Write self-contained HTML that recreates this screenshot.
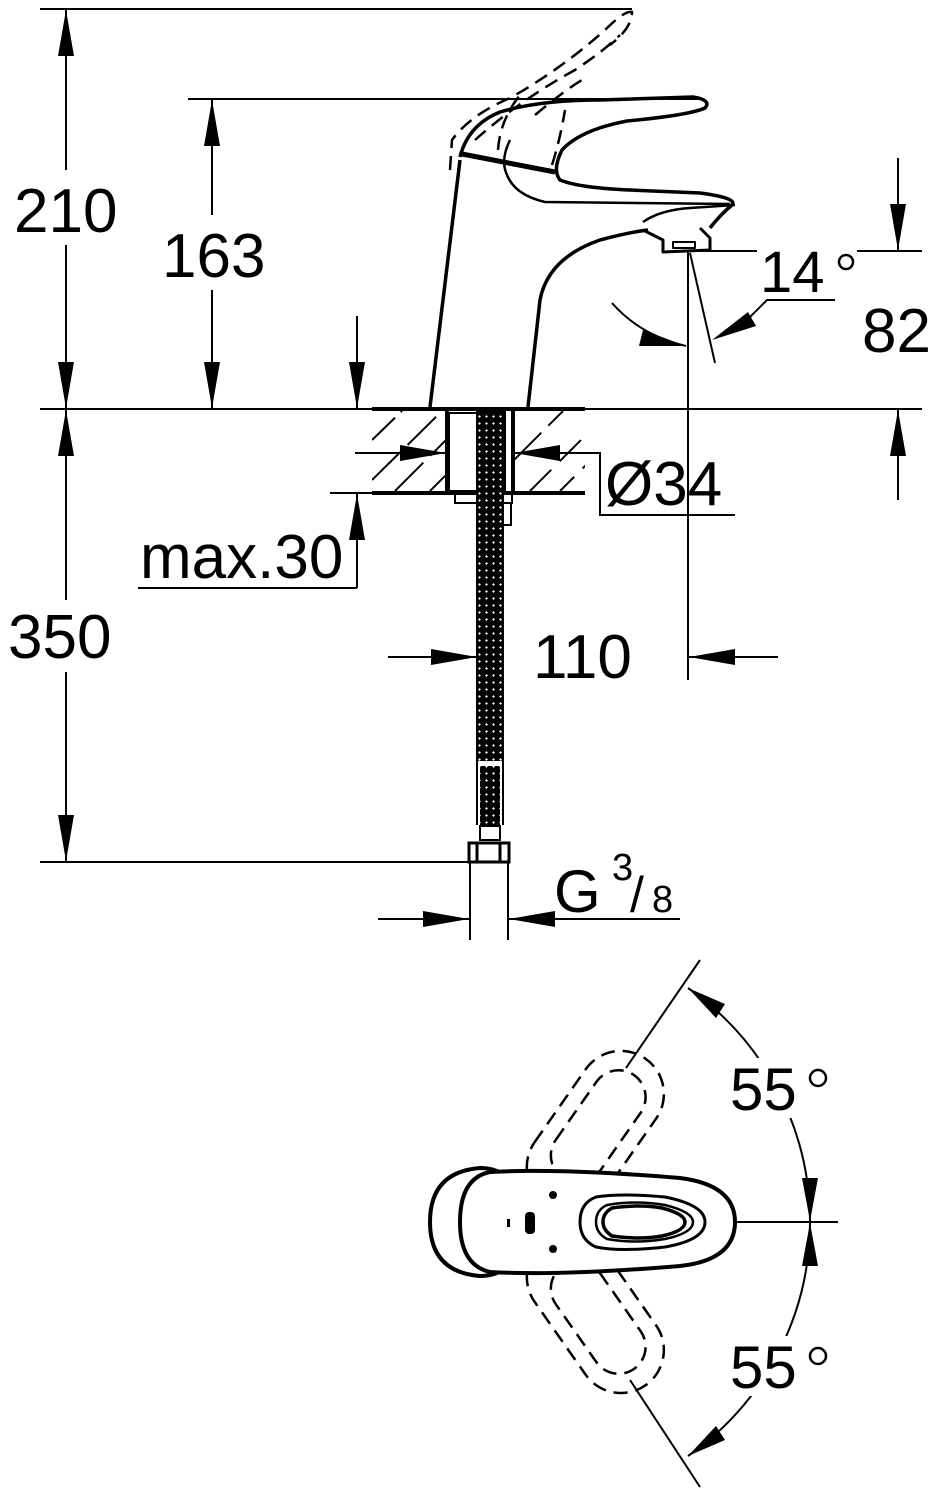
<!DOCTYPE html>
<html><head><meta charset="utf-8"><style>
html,body{margin:0;padding:0;background:#fff;}
svg{display:block;}
text{font-family:"Liberation Sans",Arial,sans-serif;fill:#000;}
</style></head><body>
<svg width="939" height="1500" viewBox="0 0 939 1500" xmlns="http://www.w3.org/2000/svg">
<defs>
<pattern id="hose" width="7" height="7" patternUnits="userSpaceOnUse">
<rect width="7" height="7" fill="#000"/>
<rect x="2.5" y="2.5" width="2" height="2" fill="#fff" transform="rotate(45 3.5 3.5)"/>
</pattern>
<clipPath id="slabL"><rect x="372" y="411" width="75" height="80"/></clipPath>
<clipPath id="slabR"><rect x="513" y="411" width="72" height="80"/></clipPath>
</defs>
<g stroke="#000" fill="none" stroke-width="2">
<line x1="40" y1="9" x2="632" y2="9"/>
<line x1="188" y1="99" x2="700" y2="99"/>
<line x1="40" y1="409" x2="922" y2="409"/>
<line x1="40" y1="862" x2="470" y2="862"/>
<line x1="66" y1="9" x2="66" y2="170"/>
<line x1="66" y1="245" x2="66" y2="409"/>
<line x1="66" y1="409" x2="66" y2="600"/>
<line x1="66" y1="672" x2="66" y2="862"/>
<line x1="212" y1="99" x2="212" y2="215"/>
<line x1="212" y1="290" x2="212" y2="409"/>
<line x1="357" y1="316" x2="357" y2="409"/>
<line x1="357" y1="493" x2="357" y2="588"/>
<line x1="138" y1="588" x2="357" y2="588"/>
<line x1="330" y1="493" x2="372" y2="493"/>
<line x1="898" y1="158" x2="898" y2="251"/>
<line x1="898" y1="409" x2="898" y2="500"/>
<line x1="690" y1="251" x2="757" y2="251"/>
<line x1="857" y1="251" x2="922" y2="251"/>
<line x1="688" y1="252" x2="688" y2="680"/>
<line x1="690" y1="253" x2="715" y2="363"/>
<polyline points="835,300 767,300 745,322"/>
<path d="M612 303 Q640 335 686 346"/>
<line x1="355" y1="453" x2="447" y2="453"/>
<polyline points="513,453 600,453 600,515 735,515"/>
<line x1="388" y1="657" x2="478" y2="657"/>
<line x1="688" y1="657" x2="778" y2="657"/>
<line x1="378" y1="919" x2="470" y2="919"/>
<line x1="508" y1="919" x2="680" y2="919"/>
<line x1="470" y1="862" x2="470" y2="940"/>
<line x1="508" y1="862" x2="508" y2="940"/>
</g>
<g fill="#000">
<polygon points="66,10 58,56 74,56"/>
<polygon points="66,408 58,362 74,362"/>
<polygon points="66,410 58,456 74,456"/>
<polygon points="66,861 58,815 74,815"/>
<polygon points="212,100 204,146 220,146"/>
<polygon points="212,408 204,362 220,362"/>
<polygon points="357,408 349,362 365,362"/>
<polygon points="357,494 349,540 365,540"/>
<polygon points="898,250 890,204 906,204"/>
<polygon points="898,410 890,456 906,456"/>
<polygon points="446,453 400,445 400,461"/>
<polygon points="514,453 560,445 560,461"/>
<polygon points="477,657 431,649 431,665"/>
<polygon points="689,657 735,649 735,665"/>
<polygon points="469,919 423,911 423,927"/>
<polygon points="509,919 555,911 555,927"/>
<polygon points="686,346 643,330 639,346"/>
<polygon points="712,340 748,312 756,326"/>
<polygon points="688,988 725,1004 716,1018"/>
<polygon points="810,1221 802,1178 818,1178"/>
<polygon points="810,1223 802,1266 818,1266"/>
<polygon points="688,1456 725,1440 716,1426"/>
</g>
<g stroke="#000" fill="none">
<line x1="372" y1="409" x2="585" y2="409" stroke-width="4"/>
<line x1="372" y1="493" x2="585" y2="493" stroke-width="4"/>
<g stroke-width="2" clip-path="url(#slabL)">
<line x1="372" y1="440" x2="402" y2="411" stroke-dasharray="32 8"/>
<line x1="372" y1="480" x2="442" y2="411" stroke-dasharray="40 10"/>
<line x1="395" y1="491" x2="475" y2="411" stroke-dasharray="40 10"/>
<line x1="430" y1="491" x2="510" y2="411" stroke-dasharray="40 10"/>
</g>
<g stroke-width="2" clip-path="url(#slabR)">
<line x1="513" y1="461" x2="563" y2="411" stroke-dasharray="40 10"/>
<line x1="530" y1="491" x2="610" y2="411" stroke-dasharray="30 12"/>
<line x1="560" y1="491" x2="640" y2="411" stroke-dasharray="20 12"/>
</g>
<line x1="447" y1="409" x2="447" y2="493" stroke-width="4"/>
<line x1="513" y1="409" x2="513" y2="493" stroke-width="4"/>
<rect x="449" y="413" width="29" height="78" stroke-width="2" fill="#fff"/>
<line x1="505" y1="411" x2="505" y2="491" stroke-width="2"/>
<polyline points="455,493 455,503 512,503 512,493" stroke-width="2"/>
<rect x="503" y="503" width="8" height="22" stroke-width="2"/>
</g>
<rect x="478" y="411" width="24" height="350" fill="url(#hose)"/>
<rect x="480" y="766" width="20" height="60" fill="url(#hose)"/>
<g stroke="#000" fill="none" stroke-width="2">
<line x1="477" y1="411" x2="477" y2="825"/>
<line x1="503" y1="411" x2="503" y2="825"/>
<rect x="480" y="826" width="20" height="14" fill="#fff"/>
<rect x="469" y="843" width="40" height="19" stroke-width="3"/>
<line x1="477" y1="843" x2="477" y2="862" stroke-width="3"/>
<line x1="500" y1="843" x2="500" y2="862" stroke-width="3"/>
</g>
<g stroke="#000" fill="none" stroke-width="3.5" stroke-linejoin="round">
<path d="M430 407 L460 160"/>
<path d="M528 407 L540 300 Q548 258 600 240 Q630 232 648 230"/>
<path d="M460 157 Q468 125 500 112 Q540 100 600 100 L693 97 Q712 100 705 108 Q690 115 627 121 Q580 130 562 150 Q552 170 560 180 Q580 188 630 190 L700 193 Q738 198 732 205 Q720 215 710 228"/>
<path d="M462 154 L555 172" stroke-width="5"/>
<path d="M510 140 Q500 160 507 175 Q515 195 545 202 L730 204" stroke-width="2.5"/>
<path d="M643 222 Q660 210 690 208 L735 205" stroke-width="2.5"/>
<path d="M643 230 L663 240 L663 252 L710 250 L710 238 L700 228" stroke-width="3"/>
<rect x="673" y="242" width="22" height="6" stroke-width="2"/>
</g>
<g stroke="#000" fill="none" stroke-width="2.5" stroke-dasharray="14 8">
<path d="M450 170 L452 140 Q470 115 510 98 Q560 70 605 30 Q625 10 632 12 Q632 28 610 45"/>
<path d="M475 140 Q520 100 575 70 Q605 50 620 35" />
<path d="M498 150 Q500 120 520 95" />
<path d="M535 115 Q565 90 582 80"/>
<path d="M552 165 Q560 140 565 110"/>
</g>
<text x="14" y="232" font-size="62">210</text>
<text x="162" y="277" font-size="62">163</text>
<text x="8" y="658" font-size="62">350</text>
<text x="140" y="578" font-size="62">max.30</text>
<text x="533" y="678" font-size="62">110</text>
<text x="605" y="505" font-size="62">Ø34</text>
<text x="760" y="292" font-size="58">14</text>
<circle cx="846" cy="262" r="7" fill="none" stroke="#000" stroke-width="2.5"/>
<text x="862" y="352" font-size="62">82</text>
<text x="554" y="912" font-size="60">G</text>
<text x="612" y="880" font-size="38">3</text>
<text x="630" y="912" font-size="50">/</text>
<text x="652" y="912" font-size="38">8</text>
<g stroke="#000" fill="none" stroke-width="2">
<path d="M525 1222 m285 0 A285 285 0 0 0 688 988"/>
<path d="M525 1222 m285 0 A285 285 0 0 1 688 1456"/>
<line x1="626" y1="1068" x2="700" y2="960"/>
<line x1="630" y1="1380" x2="700" y2="1487"/>
<line x1="735" y1="1222" x2="838" y2="1222"/>
<line x1="710" y1="1222" x2="730" y2="1222" stroke-dasharray="8 4"/>
</g>
<rect x="726" y="1058" width="108" height="60" fill="#fff"/>
<rect x="726" y="1336" width="108" height="60" fill="#fff"/>
<g stroke="#000" fill="none" stroke-width="2.5" stroke-dasharray="14 8">
<g transform="rotate(-55 530 1222)">
<rect x="555" y="1180" width="175" height="86" rx="43"/>
<rect x="585" y="1196" width="125" height="54" rx="27"/>
</g>
<g transform="rotate(55 530 1222)">
<rect x="555" y="1178" width="175" height="86" rx="43"/>
<rect x="585" y="1194" width="125" height="54" rx="27"/>
</g>
</g>
<g stroke="#000" fill="#fff" stroke-width="4">
<path d="M480 1168 Q430 1172 430 1222 Q430 1272 480 1276 Q520 1276 520 1222 Q520 1168 480 1168 Z" fill="none"/>
<path d="M490 1172 Q560 1168 680 1178 Q735 1185 735 1222 Q735 1260 680 1266 Q560 1276 490 1272 Q460 1265 460 1222 Q460 1178 490 1172 Z"/>
<path d="M596 1197 Q620 1193 665 1197 Q705 1205 705 1222 Q705 1240 665 1247 Q620 1252 596 1247 Q580 1240 580 1222 Q580 1203 596 1197 Z" stroke-width="3"/>
<path d="M607 1205 Q635 1200 665 1205 Q693 1212 693 1222 Q693 1233 665 1239 Q635 1244 607 1239 Q596 1233 596 1222 Q596 1210 607 1205 Z" stroke-width="2.5"/>
<path d="M612 1208 Q640 1204 662 1208 Q685 1214 685 1222 Q685 1231 662 1236 Q640 1240 612 1236 Q603 1230 603 1222 Q603 1213 612 1208 Z" stroke-width="3.5"/>
</g>
<g fill="#000">
<rect x="525" y="1212" width="10" height="22" rx="4"/>
<rect x="507" y="1219" width="3" height="8"/>
<circle cx="553" cy="1195" r="4"/>
<circle cx="553" cy="1249" r="4"/>
</g>
<text x="730" y="1110" font-size="60">55</text>
<circle cx="818" cy="1078" r="8" fill="none" stroke="#000" stroke-width="2.5"/>
<text x="730" y="1388" font-size="60">55</text>
<circle cx="818" cy="1356" r="8" fill="none" stroke="#000" stroke-width="2.5"/>
</svg>
</body></html>
